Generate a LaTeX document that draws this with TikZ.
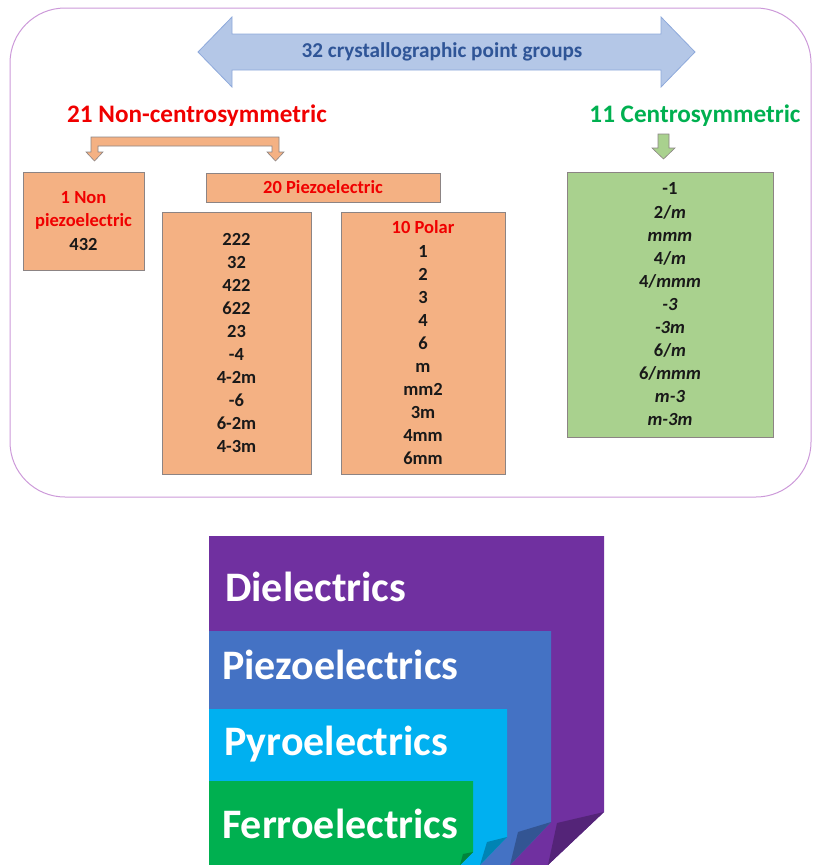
\documentclass[tikz,border=0pt]{standalone}
\usepackage{fontspec}
\setmainfont{Carlito}
\usepackage{xcolor}
\usepackage{tikz}
\usetikzlibrary{positioning}
\definecolor{lilac}{HTML}{CC99D9}
\definecolor{skyfill}{HTML}{B4C7E7}
\definecolor{skyline}{HTML}{8EA9DB}
\definecolor{navyx}{HTML}{2F5597}
\definecolor{redx}{HTML}{F00000}
\definecolor{greenx}{HTML}{00B050}
\definecolor{peach}{HTML}{F4B183}
\definecolor{sage}{HTML}{A9D18E}
\definecolor{boxline}{HTML}{8C8484}
\definecolor{purplex}{HTML}{7030A0}
\definecolor{bluex}{HTML}{4472C4}
\definecolor{cyanx}{HTML}{00B0F0}
\definecolor{greenf}{HTML}{00B050}

\begin{document}
\begin{tikzpicture}[x=1pt,y=-1pt,
  obox/.style={draw=boxline,fill=peach,line width=0.8pt,align=center,inner sep=0pt,
    font=\fontsize{18.5}{23.1}\selectfont\bfseries,text=black!90},
  head/.style={font=\fontsize{25.2}{30}\selectfont\bfseries,anchor=base,inner sep=0pt},
  layer/.style={text=white,font=\fontsize{42}{42}\selectfont\bfseries,anchor=base west,inner sep=0pt}]
\useasboundingbox (0,0) rectangle (813,865);
% outer frame
\draw[lilac,line width=1pt,rounded corners=55pt] (10,8) rectangle (811,497);
% point groups arrow
\draw[skyline,fill=skyfill,line width=0.8pt] (198,52) -- (232,17) -- (232,34) -- (661,34) -- (661,17)
  -- (695,52) -- (661,87) -- (661,70) -- (232,70) -- (232,87) -- cycle;
\node[navyx,font=\fontsize{21.2}{25}\selectfont\bfseries] (pg) at (442,52) {32 crystallographic point groups};
\node[head,redx] (noncs) at (197,122) {21 Non-centrosymmetric};
\node[head,greenx] (cs) at (695,122) {11 Centrosymmetric};
% split arrow and down arrow
\draw[boxline,fill=peach,line width=0.6pt] (91,137) -- (279,137) -- (279,152) -- (284,152) -- (275.5,161)
  -- (267,152) -- (272,152) -- (272,146) -- (98,146) -- (98,152) -- (103,152) -- (94.5,161)
  -- (86,152) -- (91,152) -- cycle;
\draw[boxline,fill=sage,line width=0.6pt] (658,134) -- (669,134) -- (669,148) -- (675,148) -- (663.5,159)
  -- (652,148) -- (658,148) -- cycle;
% group boxes
\node[obox,minimum width=121pt,minimum height=98pt] (nonpiezo) at (83.5,221)
  {\textcolor{redx}{1 Non}\\\textcolor{redx}{piezoelectric}\\432};
\node[obox,minimum width=234pt,minimum height=29pt,text=redx] (piezo) at (323,187.5) {20 Piezoelectric};
\node[obox,minimum width=149pt,minimum height=262pt] (piezolist) at (236.5,343)
  {222\\32\\422\\622\\23\\-4\\4-2m\\-6\\6-2m\\4-3m};
\node[obox,minimum width=164pt,minimum height=262pt] (polar) at (423,343)
  {\textcolor{redx}{10 Polar}\\1\\2\\3\\4\\6\\m\\mm2\\3m\\4mm\\6mm};
\node[obox,fill=sage,minimum width=206pt,minimum height=265pt] (centro) at (670,304.5)
  {-1\\2/\textit{m}\\\textit{mmm}\\4/\textit{m}\\4/\textit{mmm}\\\textit{-3}\\\textit{-3m}\\6/\textit{m}\\6/\textit{mmm}\\\textit{m-3}\\\textit{m-3m}};
% nested classes
\fill[purplex] (209,536) -- (604,536) -- (604,812) -- (548,865) -- (209,865) -- cycle;
\fill[purplex!75!black] (604,812) -- (557,823) -- (548,865) -- cycle;
\fill[bluex] (209,631) -- (551,631) -- (551,822) -- (510,865) -- (209,865) -- cycle;
\fill[bluex!75!black] (551,822) -- (518,832) -- (510,865) -- cycle;
\fill[cyanx] (209,709) -- (507,709) -- (507,837) -- (480,865) -- (209,865) -- cycle;
\fill[cyanx!75!black] (507,837) -- (487,842) -- (480,865) -- cycle;
\fill[greenf] (209,781) -- (473,781) -- (473,852) -- (460,865) -- (209,865) -- cycle;
\fill[greenf!75!black] (473,852) -- (463,854) -- (460,865) -- cycle;
\node[layer] (diel) at (225,601) {Dielectrics};
\node[layer] (pzl) at (222,679) {Piezoelectrics};
\node[layer] (pyro) at (224,755) {Pyroelectrics};
\node[layer] (ferro) at (222,838) {Ferroelectrics};
\end{tikzpicture}
\end{document}
